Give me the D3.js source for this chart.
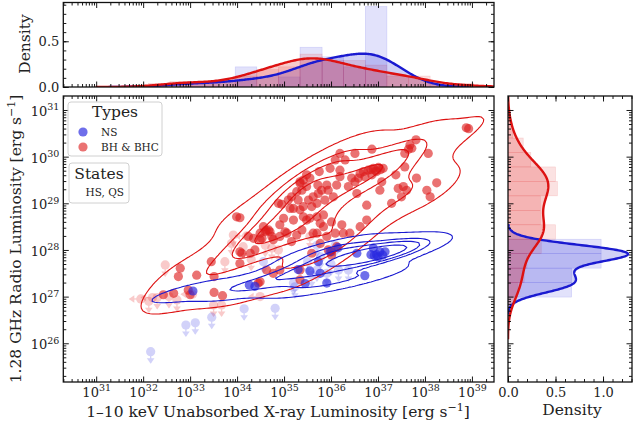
<!DOCTYPE html>
<html>
<head>
<meta charset="utf-8">
<script src="https://cdn.jsdelivr.net/npm/d3@7"></script>
<style>
body { margin: 0; background: #fff; }
text { font-family: "DejaVu Serif", serif; fill: #222; }
</style>
</head>
<body>
<svg width="635" height="430"></svg>
<script>
// log10 values [Lx, Lr]
var bhDet = [
  [38.88,30.62],[38.93,30.60],
  [37.81,30.36],[37.68,30.25],[37.65,30.16],[37.72,30.18],[37.57,30.07],[38.07,30.07],[37.57,29.78],[37.38,29.61],
  [37.82,29.54],[38.25,29.44],[38.04,29.28],[37.43,29.32],[37.54,29.36],[37.61,29.28],[37.08,29.46],[37.04,29.28],
  [37.29,29.00],[37.50,29.14],[38.11,29.14],
  [36.69,29.68],[36.79,29.71],[36.90,29.75],[37.01,29.77],[37.11,29.75],[36.87,29.61],[36.72,29.57],[36.58,29.54],
  [36.51,29.46],[36.97,29.68],[36.62,29.64],[36.44,29.54],[36.85,29.72],[36.95,29.70],[37.05,29.72],
  [36.19,30.07],[36.30,29.93],[36.51,30.07],[36.09,29.93],[35.98,29.75],[36.19,29.71],[36.87,30.16],
  [36.19,29.57],[36.37,29.36],[36.12,29.39],[35.91,29.39],[35.94,29.28],[36.05,29.14],[35.80,29.28],[35.73,29.21],
  [35.87,29.07],[35.62,29.14],[35.52,29.07],[35.59,28.93],[35.41,28.93],[35.30,29.07],[35.38,29.28],[35.48,29.36],
  [35.55,29.54],[35.41,29.50],[35.34,29.43],[35.16,29.14],[35.09,29.07],[35.20,28.89],[34.99,28.68],[34.88,29.00],
  [34.91,28.54],[35.02,28.39],[35.75,29.68],[35.72,29.39],
  [35.41,28.71],[35.55,28.68],[35.70,28.71],[35.77,28.57],[35.84,28.75],[36.01,28.60],[36.23,28.54],[36.26,28.36],
  [36.09,28.36],[36.40,28.36],[36.62,28.50],[36.76,28.64],[36.76,28.96],[36.55,29.21],
  [35.27,28.32],[35.16,28.18],[35.06,28.36],[34.91,28.29],[34.74,28.29],[34.60,28.39],[34.53,28.25],[35.70,28.36],
  [35.77,28.14],[35.91,28.29],
  [34.77,27.50],[35.34,27.57],[36.12,28.07],[36.01,27.96],[35.34,27.36],[34.45,27.29],
  [34.56,28.50],[34.70,28.39],[34.77,28.22],[34.95,28.98],[35.13,28.89],[35.27,29.25],[35.34,29.46],[35.48,29.61],
  [35.20,28.64],[35.38,28.43],[35.48,28.64],[35.62,28.36],[35.84,28.50],[35.34,28.86],[35.70,29.00],[34.49,28.36],
  [34.35,28.25],[34.24,28.29],
  [33.99,28.71],[34.06,28.69],[34.62,28.42],[34.67,28.43],[34.49,28.22],[34.10,27.93],[34.28,27.93],[34.38,28.00],
  [33.45,27.75],[34.06,27.71],[34.06,27.96],[34.63,27.57],[32.79,27.61],[32.75,27.43],[33.14,27.46],[33.51,27.43],
  [33.51,27.09],[33.69,27.02],[32.96,27.14],[33.00,27.04],[32.65,27.07],[32.43,27.04],
  [35.94,28.00],[35.59,27.93],[36.01,27.89],[34.91,27.57],[34.49,27.32]
];
var nsDet = [
  [33.06,27.12],[34.26,27.25],[34.38,27.22],[35.30,27.58],[35.45,27.28],[35.55,27.55],[35.77,27.50],[35.73,27.75],
  [35.98,27.96],[35.91,27.29],[36.15,28.05],[36.55,27.93],[36.72,27.45],
  [36.90,28.04],[37.04,27.96],[37.15,27.96],[36.97,27.90],[36.85,27.90],[37.10,27.89],[36.92,27.88],[37.00,27.85]
];
// upper limits: d = radio limit (down arrow), l = X-ray limit (left arrow)
var bhUL = [
  [31.95,26.95,"l"],[32.12,26.90,"d"],[32.30,26.98,"d"],[32.55,27.00,"d"],[32.72,26.93,"d"],[32.47,27.68,"d"],
  [33.50,26.82,"d"],[33.67,26.82,"d"],[34.49,27.00,"l"],[33.74,27.75,"d"],[33.92,28.32,"d"],[33.88,28.14,"d"],
  [34.13,28.07,"d"],[34.20,28.30,"l"],[34.74,28.04,"d"],[34.88,28.00,"d"],[35.55,28.29,"d"],[33.05,27.05,"l"],
  [32.20,26.98,"l"],[34.30,27.80,"d"],[34.60,28.10,"d"]
];
var nsUL = [
  [32.16,25.82],[32.91,26.39],[33.11,26.44],[33.46,26.56],[34.15,26.74],[34.81,26.75],[35.20,27.29],[34.56,27.75],
  [35.59,27.46],[35.70,27.57],[36.16,27.57],[36.37,27.57],[36.09,28.10],[35.70,28.10],[35.23,27.21],[35.91,27.50],
  [35.78,27.85],[35.50,27.75],[36.00,27.70]
];

// marginal histograms (density per dex)
var topEdges = [31.65,32.11,32.57,33.04,33.50,33.96,34.42,34.88,35.34,35.81,36.27,36.73,37.19,37.65,38.11,38.57,39.03];
var topRed   = [0.02,0.04,0.06,0.05,0.07,0.12,0.19,0.22,0.36,0.29,0.29,0.24,0.12,0.12,0.03,0.04];
var topBlue  = [0,0,0,0,0,0.22,0,0.11,0.435,0.33,0.22,0.88,0,0,0,0];
var rightEdges = [26.99,27.30,27.61,27.92,28.23,28.54,28.85,29.16,29.47,29.78,30.09,30.40,30.71,31.02];
var rightRed   = [0.10,0.17,0.20,0.35,0.50,0.34,0.34,0.52,0.50,0.24,0.16,0.05,0.02];
var rightBlue  = [0.67,0.67,0.98,0.98,0,0,0,0,0,0,0,0,0];

var RED = "#dd1111", BLUE = "#1a1ad0";
var isoProps = [0.05, 0.2875, 0.525, 0.7625];

var svg = d3.select("svg");
var X0 = 63.3, X1 = 494, Y0 = 96, Y1 = 382;
var TY0 = 2.5, TY1 = 87, RX0 = 508, RX1 = 632;
var lxLo = 30.30, lxHi = 39.47, lyLo = 25.17, lyHi = 31.30;

var x = d3.scaleLog().domain([10 ** lxLo, 10 ** lxHi]).range([X0, X1]);
var y = d3.scaleLog().domain([10 ** lyLo, 10 ** lyHi]).range([Y1, Y0]);
var ty = d3.scaleLinear().domain([0, 0.924]).range([TY1, TY0]);
var rx = d3.scaleLinear().domain([0, 1.305]).range([RX0, RX1]);
var px = function (l) { return x(10 ** l); };
var py = function (l) { return y(10 ** l); };

function clip(id, x0, y0, x1, y1) {
  svg.append("clipPath").attr("id", id).append("rect")
    .attr("x", x0).attr("y", y0).attr("width", x1 - x0).attr("height", y1 - y0);
}
clip("cMain", X0, Y0, X1, Y1);
clip("cTop", X0, TY0, X1, TY1);
clip("cRight", RX0, Y0, RX1, Y1);

// ---- KDE helpers
function kde1(vals, lo, hi) {
  var n = vals.length, sd = d3.deviation(vals);
  var bw = sd * Math.pow(n, -0.2);
  var a = Math.max(lo, d3.min(vals) - 3 * bw), b = Math.min(hi, d3.max(vals) + 3 * bw);
  var out = [];
  for (var i = 0; i <= 300; i++) {
    var g = a + (b - a) * i / 300, s = 0;
    vals.forEach(function (v) { var z = (g - v) / bw; s += Math.exp(-0.5 * z * z); });
    out.push([g, s / (n * bw * Math.sqrt(2 * Math.PI))]);
  }
  return out;
}

var gx0 = 29.5, gy0 = 24.5, gd = 0.05, nx = 230, ny = 170;
function kde2(pts) {
  var n = pts.length;
  var mx = d3.mean(pts, function (d) { return d[0]; }), my = d3.mean(pts, function (d) { return d[1]; });
  var sxx = 0, syy = 0, sxy = 0;
  pts.forEach(function (d) { sxx += (d[0] - mx) ** 2; syy += (d[1] - my) ** 2; sxy += (d[0] - mx) * (d[1] - my); });
  var f2 = Math.pow(n, -1 / 3);
  var a = sxx / (n - 1) * f2, c = syy / (n - 1) * f2, b = sxy / (n - 1) * f2;
  var det = a * c - b * b, ia = c / det, ib = -b / det, ic = a / det;
  var values = new Float64Array(nx * ny);
  for (var j = 0; j < ny; j++) {
    var gy = gy0 + j * gd;
    for (var i = 0; i < nx; i++) {
      var gx = gx0 + i * gd, s = 0;
      for (var k = 0; k < n; k++) {
        var dx = gx - pts[k][0], dy = gy - pts[k][1];
        s += Math.exp(-0.5 * (dx * dx * ia + 2 * dx * dy * ib + dy * dy * ic));
      }
      values[j * nx + i] = s;
    }
  }
  var sorted = Array.from(values).sort(function (p, q) { return q - p; });
  var tot = d3.sum(sorted), cum = 0, cums = sorted.map(function (v) { cum += v; return cum / tot; });
  var levels = isoProps.map(function (p) {
    return sorted[Math.min(sorted.length - 1, d3.bisectLeft(cums, 1 - p))];
  });
  return d3.contours().size([nx, ny]).thresholds(levels)(Array.from(values));
}
var gridPath = d3.geoPath(d3.geoTransform({
  point: function (cx, cy) {
    this.stream.point(px(gx0 + (cx - 0.5) * gd), py(gy0 + (cy - 0.5) * gd));
  }
}));

// ---- main scatter
var gMain = svg.append("g").attr("clip-path", "url(#cMain)");

function ulMark(g, d, col, op) {
  var cx = px(d[0]), cy = py(d[1]), dir = d[2] || "d";
  var m = g.append("g").attr("opacity", op);
  m.append("circle").attr("cx", cx).attr("cy", cy).attr("r", 4.6).attr("fill", col);
  if (dir === "d") {
    m.append("line").attr("x1", cx).attr("x2", cx).attr("y1", cy).attr("y2", cy + 11)
      .attr("stroke", col).attr("stroke-width", 1.3);
    m.append("path").attr("d", "M" + (cx - 3.8) + "," + (cy + 6.5) + "L" + cx + "," + (cy + 12) + "L" + (cx + 3.8) + "," + (cy + 6.5) + "Z").attr("fill", col);
  } else {
    m.append("line").attr("x1", cx).attr("x2", cx - 11).attr("y1", cy).attr("y2", cy)
      .attr("stroke", col).attr("stroke-width", 1.3);
    m.append("path").attr("d", "M" + (cx - 6.5) + "," + (cy - 3.8) + "L" + (cx - 12) + "," + cy + "L" + (cx - 6.5) + "," + (cy + 3.8) + "Z").attr("fill", col);
  }
}
bhUL.forEach(function (d) { ulMark(gMain, d, "#e83030", 0.25); });
nsUL.forEach(function (d) { ulMark(gMain, d, "#3535e8", 0.22); });

gMain.selectAll(".bh").data(bhDet).enter().append("circle")
  .attr("cx", function (d) { return px(d[0]); }).attr("cy", function (d) { return py(d[1]); })
  .attr("r", 4.6).attr("fill", "#dd1c1c").attr("fill-opacity", 0.62);
gMain.selectAll(".ns").data(nsDet).enter().append("circle")
  .attr("cx", function (d) { return px(d[0]); }).attr("cy", function (d) { return py(d[1]); })
  .attr("r", 4.6).attr("fill", "#2a2ae0").attr("fill-opacity", 0.68);

kde2(bhDet).forEach(function (c) {
  gMain.append("path").attr("d", gridPath(c)).attr("fill", "none").attr("stroke", RED).attr("stroke-width", 1.1);
});
kde2(nsDet).forEach(function (c) {
  gMain.append("path").attr("d", gridPath(c)).attr("fill", "none").attr("stroke", BLUE).attr("stroke-width", 1.1);
});

// ---- top marginal
var gTop = svg.append("g").attr("clip-path", "url(#cTop)");
function topHist(vals, col) {
  gTop.selectAll(null).data(vals.map(function (h, i) { return [topEdges[i], topEdges[i + 1], h]; }).filter(function (d) { return d[2] > 0; }))
    .enter().append("rect")
    .attr("x", function (d) { return px(d[0]); }).attr("width", function (d) { return px(d[1]) - px(d[0]); })
    .attr("y", function (d) { return ty(d[2]); }).attr("height", function (d) { return ty(0) - ty(d[2]); })
    .attr("fill", col).attr("fill-opacity", 0.14).attr("stroke", col).attr("stroke-opacity", 0.18).attr("stroke-width", 0.6);
}
topHist(topBlue, "#3030e0");
topHist(topRed, "#e03030");
var kTopB = kde1(nsDet.map(function (d) { return d[0]; }), lxLo - 1, lxHi + 1);
var kTopR = kde1(bhDet.map(function (d) { return d[0]; }), lxLo - 1, lxHi + 1);
var areaTop = d3.area().x(function (d) { return px(d[0]); }).y0(ty(0)).y1(function (d) { return ty(d[1]); });
var lineTop = d3.line().x(function (d) { return px(d[0]); }).y(function (d) { return ty(d[1]); });
gTop.append("path").attr("d", areaTop(kTopB)).attr("fill", BLUE).attr("fill-opacity", 0.2);
gTop.append("path").attr("d", areaTop(kTopR)).attr("fill", RED).attr("fill-opacity", 0.22);
gTop.append("path").attr("d", lineTop(kTopB)).attr("fill", "none").attr("stroke", BLUE).attr("stroke-width", 2.4);
gTop.append("path").attr("d", lineTop(kTopR)).attr("fill", "none").attr("stroke", RED).attr("stroke-width", 2.4);

// ---- right marginal
var gRight = svg.append("g").attr("clip-path", "url(#cRight)");
function rightHist(vals, col) {
  gRight.selectAll(null).data(vals.map(function (h, i) { return [rightEdges[i], rightEdges[i + 1], h]; }).filter(function (d) { return d[2] > 0; }))
    .enter().append("rect")
    .attr("y", function (d) { return py(d[1]); }).attr("height", function (d) { return py(d[0]) - py(d[1]); })
    .attr("x", rx(0)).attr("width", function (d) { return rx(d[2]) - rx(0); })
    .attr("fill", col).attr("fill-opacity", 0.14).attr("stroke", col).attr("stroke-opacity", 0.18).attr("stroke-width", 0.6);
}
rightHist(rightBlue, "#3030e0");
rightHist(rightRed, "#e03030");
var kRB = kde1(nsDet.map(function (d) { return d[1]; }), lyLo - 1, lyHi + 1);
var kRR = kde1(bhDet.map(function (d) { return d[1]; }), lyLo - 1, lyHi + 1);
var areaR = d3.area().y(function (d) { return py(d[0]); }).x0(rx(0)).x1(function (d) { return rx(d[1]); });
var lineR = d3.line().y(function (d) { return py(d[0]); }).x(function (d) { return rx(d[1]); });
gRight.append("path").attr("d", areaR(kRB)).attr("fill", BLUE).attr("fill-opacity", 0.2);
gRight.append("path").attr("d", areaR(kRR)).attr("fill", RED).attr("fill-opacity", 0.22);
gRight.append("path").attr("d", lineR(kRB)).attr("fill", "none").attr("stroke", BLUE).attr("stroke-width", 2.4);
gRight.append("path").attr("d", lineR(kRR)).attr("fill", "none").attr("stroke", RED).attr("stroke-width", 2.4);

// ---- ticks & frames
function logTicks(lo, hi) {
  var maj = [], min = [];
  for (var e = Math.floor(lo); e <= Math.ceil(hi); e++) {
    if (e >= lo && e <= hi) maj.push(10 ** e);
    for (var k = 2; k < 10; k++) {
      var v = Math.log10(k) + e;
      if (v >= lo && v <= hi) min.push(k * 10 ** e);
    }
  }
  return { maj: maj, min: min };
}
function axis(fn, scale, vals, len, tx, tyy) {
  var g = svg.append("g").attr("transform", "translate(" + tx + "," + tyy + ")")
    .call(fn(scale).tickValues(vals).tickSize(-len).tickFormat(function () { return ""; }));
  g.select(".domain").remove();
  g.selectAll(".tick line").attr("stroke", "#000").attr("stroke-width", 0.9);
  g.attr("font-family", null).attr("font-size", null);
  return g;
}
function supText(g) {
  g.selectAll(".tick text").each(function (d) {
    var t = d3.select(this).text(null).attr("font-size", 13).attr("fill", "#222");
    t.append("tspan").text("10");
    t.append("tspan").attr("dy", -5.5).attr("font-size", 9.5).text(Math.round(Math.log10(d)));
  });
}
var xt = logTicks(lxLo, lxHi), yt = logTicks(lyLo, lyHi);
var lin = function (a, b) { return d3.range(a, b + 1e-9, 0.1).map(function (v) { return +v.toFixed(1); }); };

// main
var gxb = axis(d3.axisBottom, x, xt.maj, 5.5, 0, Y1);
gxb.selectAll(".tick text").attr("y", 14.5).attr("dy", 0);
supText(gxb);
axis(d3.axisBottom, x, xt.min, 3, 0, Y1);
axis(d3.axisTop, x, xt.maj, 5.5, 0, Y0);
axis(d3.axisTop, x, xt.min, 3, 0, Y0);
var gyl = axis(d3.axisLeft, y, yt.maj, 5.5, X0, 0);
gyl.selectAll(".tick text").attr("x", -4).attr("dy", 5.5);
supText(gyl);
axis(d3.axisLeft, y, yt.min, 3, X0, 0);
axis(d3.axisRight, y, yt.maj, 5.5, X1, 0);
axis(d3.axisRight, y, yt.min, 3, X1, 0);

// top marginal
axis(d3.axisBottom, x, xt.maj, 5.5, 0, TY1);
axis(d3.axisBottom, x, xt.min, 3, 0, TY1);
axis(d3.axisTop, x, xt.maj, 5.5, 0, TY0);
axis(d3.axisTop, x, xt.min, 3, 0, TY0);
var gtl = axis(d3.axisLeft, ty, [0, 0.5], 5.5, X0, 0);
gtl.selectAll(".tick text").text(function (d) { return d.toFixed(1); })
  .attr("x", -4).attr("dy", 4.5).attr("font-size", 13).attr("fill", "#222");
axis(d3.axisLeft, ty, lin(0, 0.9), 3, X0, 0);
axis(d3.axisRight, ty, [0, 0.5], 5.5, X1, 0);
axis(d3.axisRight, ty, lin(0, 0.9), 3, X1, 0);

// right marginal
var grb = axis(d3.axisBottom, rx, [0, 0.5, 1.0], 5.5, 0, Y1);
grb.selectAll(".tick text").text(function (d) { return d.toFixed(1); })
  .attr("y", 14.5).attr("dy", 0).attr("font-size", 13).attr("fill", "#222");
axis(d3.axisBottom, rx, lin(0, 1.3), 3, 0, Y1);
axis(d3.axisTop, rx, [0, 0.5, 1.0], 5.5, 0, Y0);
axis(d3.axisTop, rx, lin(0, 1.3), 3, 0, Y0);
axis(d3.axisLeft, y, yt.maj, 5.5, RX0, 0);
axis(d3.axisLeft, y, yt.min, 3, RX0, 0);
axis(d3.axisRight, y, yt.maj, 5.5, RX1, 0);
axis(d3.axisRight, y, yt.min, 3, RX1, 0);

[[X0, Y0, X1, Y1], [X0, TY0, X1, TY1], [RX0, Y0, RX1, Y1]].forEach(function (b) {
  svg.append("rect").attr("x", b[0]).attr("y", b[1]).attr("width", b[2] - b[0]).attr("height", b[3] - b[1])
    .attr("fill", "none").attr("stroke", "#111").attr("stroke-width", 1.3);
});

// ---- labels
svg.append("text").attr("transform", "translate(25,44) rotate(-90)").attr("text-anchor", "middle")
  .attr("dy", "0.35em").attr("font-size", 15.5).text("Density");
var yl = svg.append("text").attr("transform", "translate(16,239) rotate(-90)").attr("text-anchor", "middle")
  .attr("dy", "0.35em").attr("font-size", 15.5);
yl.append("tspan").text("1.28 GHz Radio Luminosity [erg s");
yl.append("tspan").attr("dy", -6).attr("font-size", 11).text("\u22121");
yl.append("tspan").attr("dy", 6).text("]");
var xl = svg.append("text").attr("x", 278).attr("y", 417).attr("text-anchor", "middle").attr("font-size", 15.5);
xl.append("tspan").text("1\u201310 keV Unabsorbed X-ray Luminosity [erg s");
xl.append("tspan").attr("dy", -6).attr("font-size", 11).text("\u22121");
xl.append("tspan").attr("dy", 6).text("]");
svg.append("text").attr("x", 572).attr("y", 415).attr("text-anchor", "middle").attr("font-size", 15.5).text("Density");

// ---- legends
var lg = svg.append("g");
lg.append("rect").attr("x", 68).attr("y", 102).attr("width", 94).attr("height", 54).attr("rx", 3)
  .attr("fill", "#fff").attr("fill-opacity", 0.85).attr("stroke", "#d0d0d0");
lg.append("text").attr("x", 115).attr("y", 117).attr("text-anchor", "middle").attr("font-size", 15.5).text("Types");
var types = [["NS", "#2a2ae0", 0.68], ["BH & BHC", "#dd1c1c", 0.62]];
types.forEach(function (t, i) {
  lg.append("circle").attr("cx", 83).attr("cy", 132 + i * 15).attr("r", 4.6).attr("fill", t[1]).attr("fill-opacity", t[2]);
  lg.append("text").attr("x", 101).attr("y", 135.5 + i * 15).attr("font-size", 10.5).text(t[0]);
});
lg.append("rect").attr("x", 69).attr("y", 163).attr("width", 60).attr("height", 40).attr("rx", 3)
  .attr("fill", "#fff").attr("fill-opacity", 0.85).attr("stroke", "#d0d0d0");
lg.append("text").attr("x", 99).attr("y", 179).attr("text-anchor", "middle").attr("font-size", 15.5).text("States");
lg.append("text").attr("x", 124).attr("y", 196).attr("text-anchor", "end").attr("font-size", 10.5).text("HS, QS");
</script>
</body>
</html>
